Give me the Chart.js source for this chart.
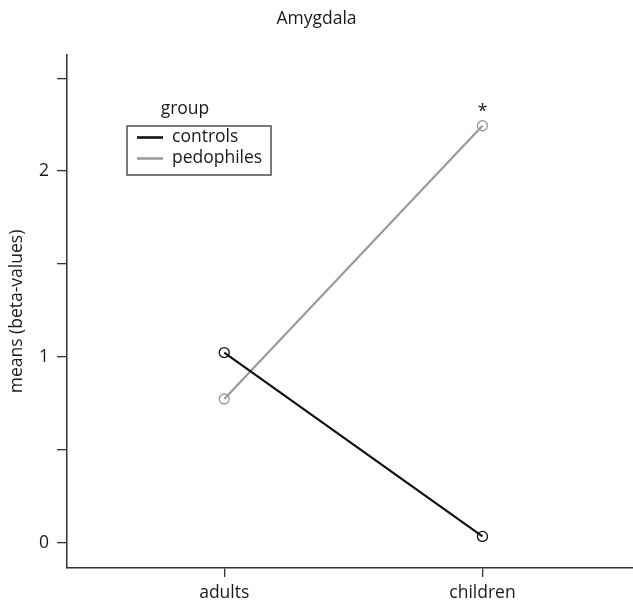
<!DOCTYPE html>
<html>
<head>
<meta charset="utf-8">
<script src="https://cdn.jsdelivr.net/npm/chart.js@4"></script>
<style>
  html, body { margin: 0; padding: 0; background: #fff; }
  #wrap { width: 633px; height: 606px; position: relative; }
</style>
</head>
<body>
<div id="wrap"><canvas id="c" width="633" height="606"></canvas></div>
<script>
const categories = ['adults', 'children'];
const groupNames = ['controls', 'pedophiles'];
const controls = [1.023, 0.033];
const pedophiles = [0.773, 2.244];
const yTickValues = [0, 0.5, 1, 1.5, 2, 2.5];
const yTickLabels = ['0', '', '1', '', '2', ''];
const significance = ['', '*'];

const FONT = "'Open Sans', 'Noto Sans', sans-serif";
const TEXT = '#1a1a1a';
const AXIS = '#333';
const COL_CTRL = '#111111';
const COL_PED = '#9a9a9a';

const overlay = {
  id: 'overlay',
  afterDatasetsDraw(chart) {
    const ctx = chart.ctx;
    const xs = chart.scales.x, ys = chart.scales.y;
    ctx.save();
    ctx.fillStyle = TEXT;
    ctx.font = '17.5px ' + FONT;
    ctx.textAlign = 'center';
    ctx.textBaseline = 'middle';
    significance.forEach((s, i) => {
      if (!s) return;
      const px = xs.getPixelForValue(i);
      const py = ys.getPixelForValue(pedophiles[i]) - 17;
      ctx.fillText(s, px, py + 3);
    });
    const bx = 127, by = 126, bw = 144, bh = 49;
    ctx.fillStyle = TEXT;
    ctx.fillText('group', 185, 109);
    ctx.strokeStyle = '#444';
    ctx.lineWidth = 1.4;
    ctx.strokeRect(bx, by, bw, bh);
    const rows = [137.5, 158.5];
    chart.data.datasets.forEach((ds, i) => {
      ctx.strokeStyle = ds.borderColor;
      ctx.lineWidth = 2.6;
      ctx.beginPath();
      ctx.moveTo(137, rows[i]);
      ctx.lineTo(163, rows[i]);
      ctx.stroke();
      ctx.fillStyle = TEXT;
      ctx.textAlign = 'left';
      ctx.fillText(ds.label, 172, rows[i]);
    });
    ctx.restore();
  }
};

new Chart(document.getElementById('c'), {
  type: 'line',
  data: {
    datasets: [
      {
        label: groupNames[0],
        data: controls.map((v, i) => ({ x: i, y: v })),
        borderColor: COL_CTRL,
        borderWidth: 2.2,
        pointRadius: 5,
        pointBorderWidth: 1.3,
        pointBorderColor: COL_CTRL,
        pointBackgroundColor: 'rgba(0,0,0,0)',
        tension: 0
      },
      {
        label: groupNames[1],
        data: pedophiles.map((v, i) => ({ x: i, y: v })),
        borderColor: COL_PED,
        borderWidth: 2.2,
        pointRadius: 5,
        pointBorderWidth: 1.3,
        pointBorderColor: COL_PED,
        pointBackgroundColor: 'rgba(0,0,0,0)',
        tension: 0
      }
    ]
  },
  options: {
    responsive: false,
    animation: false,
    layout: { autoPadding: false, padding: { left: 0, right: 0, top: 0, bottom: 0 } },
    plugins: {
      legend: { display: false },
      tooltip: { enabled: false },
      title: {
        display: true,
        text: 'Amygdala',
        color: TEXT,
        font: { family: FONT, size: 17.5, weight: 'normal', lineHeight: 1.2 },
        padding: { top: 9, bottom: 25 }
      }
    },
    scales: {
      x: {
        type: 'linear',
        min: -0.609,
        max: 1.583,
        afterBuildTicks(scale) { scale.ticks = categories.map((c, i) => ({ value: i })); },
        afterFit(scale) { scale.height = 38; scale.paddingLeft = 0; scale.paddingRight = 0; },
        ticks: {
          color: TEXT,
          font: { family: FONT, size: 17.5 },
          padding: 6,
          maxRotation: 0,
          autoSkip: false,
          callback: (v) => categories[v] ?? ''
        },
        grid: { display: true, drawOnChartArea: false, drawTicks: true, tickLength: 9, color: AXIS, lineWidth: 1.3 },
        border: { display: true, color: AXIS, width: 1.5 }
      },
      y: {
        type: 'linear',
        min: -0.137,
        max: 2.625,
        afterBuildTicks(scale) { scale.ticks = yTickValues.map(v => ({ value: v })); },
        afterFit(scale) { scale.width = 67; scale.paddingTop = 0; scale.paddingBottom = 0; },
        ticks: {
          color: TEXT,
          font: { family: FONT, size: 17.5 },
          padding: 8,
          autoSkip: false,
          callback: (v) => { const i = yTickValues.indexOf(v); return i >= 0 ? yTickLabels[i] : ''; }
        },
        title: {
          display: true,
          text: 'means (beta-values)',
          color: TEXT,
          font: { family: FONT, size: 17.5 },
          padding: { top: 7, bottom: 0 }
        },
        grid: { display: true, drawOnChartArea: false, drawTicks: true, tickLength: 10, color: AXIS, lineWidth: 1.3 },
        border: { display: true, color: AXIS, width: 1.5 }
      }
    }
  },
  plugins: [overlay]
});
</script>
</body>
</html>
